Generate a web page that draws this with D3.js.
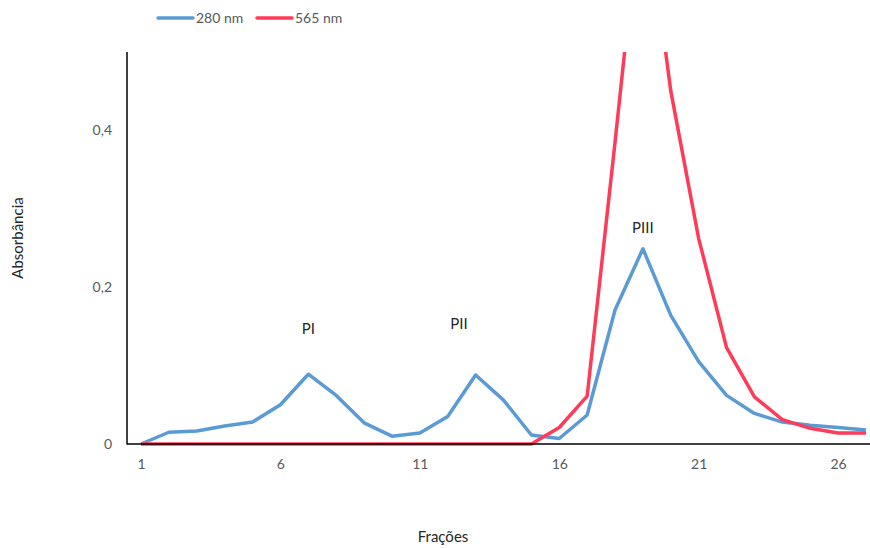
<!DOCTYPE html>
<html><head><meta charset="utf-8">
<script src="https://cdn.jsdelivr.net/npm/d3@7"></script>
<style>body{margin:0;background:#fff}svg{display:block;font-family:Lato,"Open Sans",sans-serif}</style>
</head><body><svg id="c" width="870" height="548"></svg>
<script>
const fractions = d3.range(1, 28);
const abs280 = [0,0.015,0.0165,0.023,0.028,0.05,0.089,0.062,0.027,0.01,0.014,0.035,0.088,0.056,0.0115,0.007,0.037,0.171,0.249,0.164,0.105,0.062,0.039,0.028,0.024,0.021,0.018];
const abs565 = [0,0,0,0,0,0,0,0,0,0,0,0,0,0,0,0.021,0.061,0.385,0.72,0.45,0.262,0.123,0.06,0.031,0.02,0.014,0.014];
const xTicks = [1,6,11,16,21,26];
const yTicks = [0,0.2,0.4];
const seriesNames = ["280 nm","565 nm"];
const peakLabels = [{t:"PI",f:7,v:0.14},{t:"PII",f:12.4,v:0.147},{t:"PIII",f:19,v:0.269}];
const colors = ["#5B9BD5","#FF3B5A"];

const svg = d3.select("#c");
const x = d3.scaleLinear().domain([1,27]).range([141,866]);
const y = d3.scaleLinear().domain([0,0.5]).range([444,52]);

svg.append("defs").append("clipPath").attr("id","clip")
  .append("rect").attr("x",127).attr("y",52).attr("width",743).attr("height",400);

const line = d3.line().x((d,i)=>x(fractions[i])).y(d=>y(d));
const g = svg.append("g").attr("clip-path","url(#clip)");
[abs280, abs565].forEach((s,k)=>{
  g.append("path").datum(s).attr("d",line).attr("fill","none")
   .attr("stroke",colors[k]).attr("stroke-width",3.5).attr("stroke-linejoin","round");
});

// axes
const yAxis = d3.axisLeft(y).tickValues(yTicks).tickSize(0).tickPadding(15)
  .tickFormat(d=> d===0 ? "0" : d3.format(".1f")(d).replace(".",","));
const ya = svg.append("g").attr("transform","translate(127,0)").call(yAxis);
ya.select(".domain").attr("stroke","#000").attr("stroke-width",1.5).attr("d","M0,52V444.5");
ya.selectAll("text").attr("fill","#595959").style("font-size","14px").style("font-family","Lato");

const xAxis = d3.axisBottom(x).tickValues(xTicks).tickSize(0).tickPadding(15);
const xa = svg.append("g").attr("transform","translate(0,444)").call(xAxis);
xa.select(".domain").attr("stroke","#000").attr("stroke-width",1.5).attr("d","M127,0H870");
xa.selectAll("text").attr("fill","#595959").style("font-size","14px").style("font-family","Lato");

// peak labels
peakLabels.forEach(p=>{
  svg.append("text").attr("x",x(p.f)).attr("y",y(p.v)).attr("text-anchor","middle")
    .attr("fill","#262626").style("font-size","15px").text(p.t);
});

// axis titles
svg.append("text").attr("transform","translate(23,238) rotate(-90)").attr("text-anchor","middle")
  .attr("fill","#262626").style("font-size","15px").text("Absorbância");
svg.append("text").attr("x",443).attr("y",542).attr("text-anchor","middle")
  .attr("fill","#262626").style("font-size","15px").text("Frações");

// legend
const leg = [{x:158},{x:257}];
leg.forEach((l,k)=>{
  svg.append("line").attr("x1",l.x).attr("x2",l.x+35).attr("y1",18).attr("y2",18)
    .attr("stroke",colors[k]).attr("stroke-width",3.5).attr("stroke-linecap","round");
  svg.append("text").attr("x",l.x+38).attr("y",23).attr("fill","#595959")
    .style("font-size","14px").text(seriesNames[k]);
});
</script></body></html>
